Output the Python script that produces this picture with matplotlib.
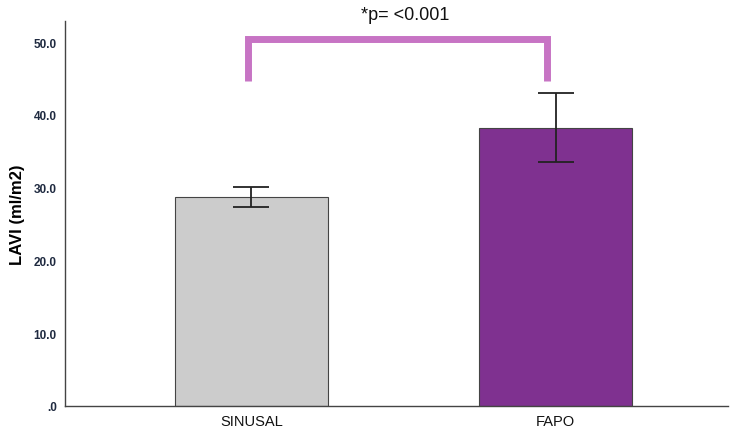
import matplotlib
matplotlib.use("Agg")
import matplotlib.pyplot as plt
from matplotlib.ticker import FuncFormatter

plt.rcParams["font.family"] = ["Liberation Sans", "DejaVu Sans"]

categories = ["SINUSAL", "FAPO"]
means = [28.7, 38.2]
err_low = [27.3, 33.5]
err_high = [30.1, 43.0]
bar_colors = ["#cccccc", "#7f3190"]
yticks = [0, 10, 20, 30, 40, 50]
bracket_y = 50.5
bracket_bottom = 44.6
p_text = "*p= <0.001"

fig = plt.figure(figsize=(7.3, 4.31), dpi=100)
ax = fig.add_axes([0.089, 0.0557, 0.908, 0.893])

x = list(range(len(categories)))
ax.bar(x, means, width=0.502, color=bar_colors, edgecolor="#444444", linewidth=0.8, zorder=2)
yerr = [[m - l for m, l in zip(means, err_low)], [h - m for m, h in zip(means, err_high)]]
ax.errorbar(x, means, yerr=yerr, fmt="none", ecolor="#222222", elinewidth=1.3,
            capsize=13, capthick=1.3, zorder=3)

ax.set_xlim(-0.612, 1.565)
ax.set_ylim(0, 52.9)
ax.set_yticks(yticks)
ax.yaxis.set_major_formatter(FuncFormatter(lambda v, p: ".0" if v == 0 else f"{v:.1f}"))
ax.set_xticks(x)
ax.set_xticklabels(categories, fontsize=10.5, color="#111111")
ax.tick_params(axis="both", length=0)
ax.tick_params(axis="y", labelsize=8.5, labelcolor="#1f2a40", pad=6)
ax.tick_params(axis="x", pad=6)
for lab in ax.get_yticklabels():
    lab.set_fontweight("bold")
ax.set_ylabel("LAVI (ml/m2)", fontsize=12, fontweight="bold")
ax.yaxis.set_label_coords(-0.071, 0.5)
ax.yaxis.label.set_va("center")

for s in ["top", "right"]:
    ax.spines[s].set_visible(False)
for s in ["left", "bottom"]:
    ax.spines[s].set_color("#444444")
    ax.spines[s].set_linewidth(1.0)

# significance bracket
bx0, bx1 = -0.011, 0.97
ax.plot([bx0, bx0, bx1, bx1], [bracket_bottom, bracket_y, bracket_y, bracket_bottom],
        color="#c774c4", linewidth=5, solid_joinstyle="miter", solid_capstyle="butt",
        clip_on=False, zorder=4)
ax.text((bx0 + bx1) / 2 + 0.025, 1.018, p_text, transform=ax.get_xaxis_transform(),
        ha="center", va="center", fontsize=13, color="#111111")

fig.savefig("out.png", dpi=100)
